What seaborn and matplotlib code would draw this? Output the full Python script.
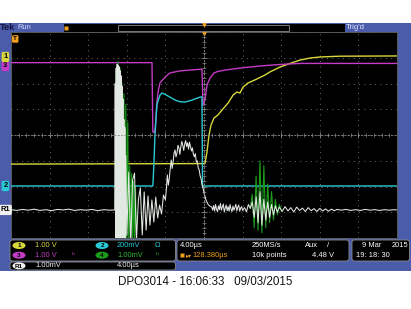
import numpy as np
import pandas as pd
import matplotlib
matplotlib.use("Agg")
import matplotlib.pyplot as plt
import seaborn as sns
from matplotlib.patches import Rectangle, FancyBboxPatch, Ellipse
from matplotlib.transforms import blended_transform_factory

plt.rcParams['font.family'] = ['Liberation Sans', 'DejaVu Sans']

# ---------------- data: time in µs, amplitude in screen divisions ----------------
ch1_t = [-20, 0.10, 0.31, 0.52, 0.73, 1.04, 1.45, 1.87, 2.49, 3.01, 3.42, 3.73, 4.04,
         4.56, 5.28, 6.32, 6.84, 7.88, 8.91, 9.95, 11.0, 12.02, 14.09, 20]
ch1_v = [-1.13, -1.11, -0.66, 0.0, 0.39, 0.66, 0.78, 0.97, 1.24, 1.55, 1.67, 1.63, 1.86,
         2.02, 2.14, 2.33, 2.45, 2.64, 2.78, 2.91, 2.99, 3.03, 3.06, 3.07]

ch2_t = [-20, -5.30, -5.20, -5.08, -4.97, -4.87, -4.56, -4.35, -4.04, -3.52, -3.01, -2.49,
         -1.97, -1.45, -0.93, -0.41, -0.21, -0.15, 20]
ch2_v = [-1.98, -1.98, -1.2, 0.0, 0.70, 1.20, 1.55, 1.63, 1.58, 1.47, 1.36, 1.29,
         1.28, 1.33, 1.40, 1.47, 1.48, -1.98, -1.98]

ch3_t = [-20, -5.39, -5.30, -5.15, -5.05, -4.95, -4.85, -4.70, -4.56, -4.04, -3.52, -2.49,
         -1.45, -0.21, -0.10, 0.10, 0.31, 0.62, 1.04, 1.45, 2.18, 3.73, 5.80, 7.88, 10.0, 20.0]
ch3_v = [2.81, 2.81, 0.12, 0.10, 0.25, 0.80, 1.40, 1.80, 2.02, 2.25, 2.41, 2.49,
         2.52, 2.56, 1.15, 1.36, 1.94, 2.21, 2.41, 2.47, 2.52, 2.60, 2.68, 2.74, 2.78, 2.78]

# reference R1 (noisy current-like trace)
r1_t = [-20.0, -19.4, -18.8, -18.2, -17.6, -17.0, -16.4, -15.8, -15.2, -14.6, -14.0, -13.4,
        -12.8, -12.2, -11.6, -11.0, -10.4, -9.8, -9.3,
        -9.25, -9.2, -9.15, -9.1, -9.05, -9.0, -8.95, -8.9, -8.85, -8.8, -8.75, -8.7, -8.65,
        -8.6, -8.55, -8.5, -8.45, -8.4, -8.35, -8.3, -8.25, -8.2, -8.15, -8.1,
        -8.0, -7.8, -7.6, -7.4, -7.2, -7.0, -6.8, -6.6, -6.4, -6.2, -6.0, -5.8, -5.6, -5.4,
        -5.2, -5.0, -4.8, -4.6, -4.4, -4.2,
        -4.0, -3.9, -3.8, -3.7, -3.6, -3.5, -3.4, -3.3, -3.2, -3.1, -3.0, -2.9, -2.8, -2.7,
        -2.6, -2.5, -2.4, -2.3, -2.2, -2.1, -2.0, -1.9, -1.8, -1.7, -1.6, -1.5, -1.4, -1.3,
        -1.2, -1.1, -1.0, -0.9, -0.8, -0.7, -0.6, -0.5, -0.4, -0.3, -0.2, -0.1, 0.0, 0.2,
        0.4, 0.6,
        0.8, 0.9, 1.0, 1.1, 1.2, 1.3, 1.4, 1.5, 1.6, 1.7, 1.8, 1.9, 2.0, 2.1, 2.2, 2.3, 2.4,
        2.5, 2.6, 2.7, 2.8, 2.9, 3.0, 3.1, 3.2, 3.3, 3.4, 3.5, 3.6, 3.7, 3.8, 3.9, 4.0,
        4.2, 4.4, 4.6, 4.8,
        5.0, 5.2, 5.4, 5.6, 5.8, 6.0, 6.2, 6.4, 6.6, 6.8, 7.0, 7.2, 7.4, 7.6,
        7.8, 8.1, 8.4, 8.7, 9.0, 9.3, 9.6, 9.9, 10.2, 10.5, 10.8, 11.1, 11.4, 11.7, 12.0,
        12.3, 12.6, 12.9, 13.2, 13.5, 13.8,
        14.2, 14.7, 15.2, 15.7, 16.2, 16.7, 17.2, 17.7, 18.2, 18.7, 19.2, 19.7, 20.0]
r1_v = [-2.90, -2.93, -2.89, -2.92, -2.88, -2.93, -2.90, -2.94, -2.89, -2.91, -2.88, -2.93,
        -2.90, -2.92, -2.89, -2.94, -2.90, -2.92, -2.91,
        -2.91, 2.0, -4.3, 2.6, -4.3, 2.75, -4.3, 2.7, -4.3, 2.65, -4.3, 2.5, -4.3,
        2.3, -4.3, 1.9, -4.3, 1.4, -4.3, 0.6, -4.3, 0.3, -4.3, -0.8,
        -3.9, -1.44, -4.3, -1.75, -1.48, -4.1, -2.52, -2.06, -3.88, -2.21, -3.69, -2.37, -3.50, -2.52,
        -3.38, -2.41, -3.22, -2.72, -3.07, -2.33,
        -2.52, -2.10, -1.55, -1.95, -1.70, -1.30, -0.97, -1.30, -1.05, -0.70, -0.58, -0.85, -0.70, -0.40,
        -0.50, -0.75, -0.45, -0.25, -0.40, -0.60, -0.35, -0.22, -0.45, -0.30, -0.55, -0.28, -0.45, -0.62,
        -0.50, -0.75, -0.85, -0.72, -1.05, -1.00, -1.28, -1.35, -1.59, -1.70, -1.94, -2.05, -2.25, -2.52,
        -2.68, -2.76,
        -2.80, -2.92, -2.74, -2.95, -2.70, -2.88, -2.98, -2.75, -2.90, -2.66, -2.92, -2.80, -2.68, -2.99,
        -2.84, -2.72, -2.94, -2.78, -2.96, -2.70, -2.88, -2.97, -2.76, -2.92, -2.82, -2.69, -2.95, -2.80,
        -2.72, -2.96, -2.84, -2.78, -2.93,
        -2.82, -2.98, -2.70, -2.85,
        -2.6, -3.2, -2.4, -3.4, -2.2, -3.5, -2.5, -3.3, -2.6, -3.2, -2.7, -3.1, -2.75, -3.0,
        -2.80, -2.97, -2.78, -2.95, -2.82, -2.99, -2.80, -2.93, -2.84, -2.97, -2.82, -2.94, -2.86,
        -2.97, -2.85, -2.95, -2.87, -2.96, -2.88, -2.94, -2.89,
        -2.92, -2.89, -2.93, -2.90, -2.93, -2.89, -2.92, -2.90, -2.93, -2.90, -2.92, -2.90, -2.91]

# channel 4 (green) where it shows from under R1
ch4a_t = [-9.2, -9.1, -9.0, -8.9, -8.8, -8.7, -8.6, -8.5, -8.4, -8.3, -8.2, -8.1, -8.0, -7.9,
          -7.8, -7.7, -7.6, -7.5, -7.4, -7.3, -7.2, -7.1, -7.0]
ch4a_v = [-2.9, 2.5, -4.3, 2.85, -4.3, 2.6, -4.3, 2.0, -4.3, 1.6, -4.3, 1.2, -4.3, 0.5,
          -4.3, -1.2, -4.3, -1.5, -4.3, -1.8, -4.1, -2.0, -3.9]
ch4b_t = [4.8, 5.0, 5.2, 5.4, 5.6, 5.8, 6.0, 6.2, 6.4, 6.6, 6.8, 7.0, 7.2, 7.4, 7.6, 7.8, 8.0]
ch4b_v = [-2.85, -2.3, -3.6, -1.6, -3.7, -1.0, -3.8, -1.2, -3.6, -1.9, -3.4, -2.2, -3.3, -2.5,
          -3.1, -2.7, -2.9]

# marker levels (divisions)
ch_marker_levels = {'1': 3.03, '3': 2.68, '2': -1.98, 'R1': -2.91}
trig_level = 3.73

readout_row1 = ["1.00 V", "200mV", "Ω"]
readout_row2 = ["1.00 V", "ʰ", "1.00mV", "ʰ"]
ref_row = ["1.00mV", "4.00µs"]
timebase = ["4.00µs", "250MS/s", "Aux", "/", "128.380µs", "10k points", "4.48 V"]
date_txt = ["9 Mar", "2015", "19: 18: 30"]
caption = "DPO3014 - 16:06:33   09/03/2015"

YEL = '#d8d83c'
MAG = '#c43cc8'
CYA = '#2ccad6'
GRN = '#1a9c1a'
REF = '#e2e8e2'
ORG = '#f0a020'
BLUE = '#4a5caa'

# ---------------- figure ----------------
W, H = 411, 309
fig = plt.figure(figsize=(W / 100, H / 100), dpi=100)
fig.patch.set_facecolor('white')

bg = fig.add_axes([0, 0, 1, 1], zorder=-1)
bg.set_xlim(0, W)
bg.set_ylim(H, 0)
bg.axis('off')


def box(x0, y0, x1, y1, fc, ec='none', lw=0.0, rounded=False):
    if rounded:
        p = FancyBboxPatch((x0, y0), x1 - x0, y1 - y0,
                           boxstyle='round,pad=0,rounding_size=2.5', fc=fc, ec=ec, lw=lw)
    else:
        p = Rectangle((x0, y0), x1 - x0, y1 - y0, fc=fc, ec=ec, lw=lw)
    bg.add_patch(p)


# blue frame
box(0, 23, W, 271, BLUE)
# top status bar
box(64, 23.8, 345, 31.6, 'black')
box(118, 24.6, 289, 30.6, 'black', ec='#8a8a8a', lw=0.6)
bg.plot([204], [25], marker='v', color=ORG, ms=3.5, mec='none')
bg.plot([66], [27.5], marker='s', color=ORG, ms=3.5, mec='none')
bg.text(0.3, 27.6, 'Tek', color='#141440', fontsize=6.6, fontweight='bold', va='center')
bg.text(17.5, 27.6, 'Run', color='#d0d8ff', fontsize=5.4, va='center')
bg.text(346, 27.6, "Trig'd", color='#e0e4ff', fontsize=5.6, va='center')

# bottom readout boxes
box(10, 240, 175.5, 261, 'black', ec='#8c8c8c', lw=0.6, rounded=True)
box(10, 262, 175.5, 270, 'black', ec='#8c8c8c', lw=0.6, rounded=True)
box(177, 240, 349, 261, 'black', ec='#8c8c8c', lw=0.6, rounded=True)
box(352, 240, 409.5, 261, 'black', ec='#8c8c8c', lw=0.6, rounded=True)

fs = 5.4
r1y, r2y, r3y = 245.5, 255.2, 265.8
for (cx, cy, col, lab) in [(19, r1y, YEL, '1'), (102, r1y, CYA, '2'),
                           (19, r2y, MAG, '3'), (102, r2y, GRN, '4'),
                           (19, r3y, '#f0f0f0', 'R1')]:
    bg.add_patch(Ellipse((cx, cy), 13, 7, fc=col, ec='none'))
    bg.text(cx, cy + 0.3, lab, color='black', fontsize=4.6, ha='center', va='center',
            fontweight='bold')
bg.text(35, r1y, readout_row1[0], color=YEL, fontsize=fs, va='center')
bg.text(117, r1y, readout_row1[1], color=CYA, fontsize=fs, va='center')
bg.text(155, r1y, readout_row1[2], color=CYA, fontsize=fs, va='center')
bg.text(35, r2y, readout_row2[0], color=MAG, fontsize=fs, va='center')
bg.text(72, r2y, readout_row2[1], color=MAG, fontsize=fs, va='center')
bg.text(117, r2y, readout_row2[2], color='#30b830', fontsize=fs, va='center')
bg.text(156, r2y, readout_row2[3], color='#30b830', fontsize=fs, va='center')
bg.text(35, r3y, ref_row[0], color='#f0f0f0', fontsize=fs, va='center')
bg.text(117, r3y, ref_row[1], color='#f0f0f0', fontsize=fs, va='center')

bg.text(180, r1y, timebase[0], color='white', fontsize=fs, va='center')
bg.text(252, r1y, timebase[1], color='white', fontsize=fs, va='center')
bg.text(305, r1y, timebase[2], color='white', fontsize=fs, va='center')
bg.text(327, r1y, timebase[3], color='white', fontsize=fs, va='center')
bg.plot([182], [r2y], marker='s', color=ORG, ms=3.2, mec='none')
bg.text(185.5, r2y, '▸▾', color=ORG, fontsize=4.2, va='center', family='DejaVu Sans')
bg.text(192.5, r2y, timebase[4], color=ORG, fontsize=fs, va='center')
bg.text(252, r2y, timebase[5], color='white', fontsize=fs, va='center')
bg.text(312, r2y, timebase[6], color='white', fontsize=fs, va='center')
bg.text(362, r1y, date_txt[0], color='white', fontsize=fs, va='center')
bg.text(392, r1y, date_txt[1], color='white', fontsize=fs, va='center')
bg.text(356, r2y, date_txt[2], color='white', fontsize=fs, va='center')

fig.text(205 / W, 1 - 282 / H, caption, ha='center', va='center', fontsize=8.4,
         family='Liberation Sans', color='#151515')

# ---------------- graticule axes ----------------
ax = fig.add_axes([11 / W, 1 - 238 / H, 386 / W, 206 / H])
ax.set_facecolor('black')

frames = [
    pd.DataFrame({'t': ch1_t, 'v': ch1_v, 'trace': 'ch1', 'seg': 0}),
    pd.DataFrame({'t': ch3_t, 'v': ch3_v, 'trace': 'ch3', 'seg': 0}),
    pd.DataFrame({'t': ch2_t, 'v': ch2_v, 'trace': 'ch2', 'seg': 0}),
    pd.DataFrame({'t': ch4a_t, 'v': ch4a_v, 'trace': 'ch4', 'seg': 0}),
    pd.DataFrame({'t': ch4b_t, 'v': ch4b_v, 'trace': 'ch4', 'seg': 1}),
    pd.DataFrame({'t': r1_t, 'v': r1_v, 'trace': 'R1', 'seg': 0}),
]
df = pd.concat(frames, ignore_index=True)

styles = [('ch1', YEL, 1.0), ('ch3', MAG, 1.0), ('ch2', CYA, 1.0),
          ('ch4', GRN, 0.8), ('R1', REF, 0.75)]
for name, col, lw in styles:
    sns.lineplot(data=df[df['trace'] == name], x='t', y='v', units='seg', estimator=None,
                 sort=False, color=col, linewidth=lw, ax=ax, legend=False)

ax.set_xlim(-20, 20)
ax.set_ylim(-4, 4)
ax.set_xlabel('')
ax.set_ylabel('')
ax.set_xticks(np.arange(-20, 21, 4))
ax.set_yticks(np.arange(-4, 5, 1))
ax.set_xticks(np.arange(-20, 20.01, 0.8), minor=True)
ax.set_yticks(np.arange(-4, 4.01, 0.2), minor=True)
ax.grid(True, which='major', color='#6c6c6c', lw=0.7, ls=(0, (1, 4.5)))
ax.set_axisbelow(True)
for s in ['top', 'right']:
    ax.spines[s].set_visible(False)
for s in ['left', 'bottom']:
    ax.spines[s].set_position(('data', 0))
    ax.spines[s].set_color('#8a8a8a')
    ax.spines[s].set_linewidth(0.6)
    ax.spines[s].set_linestyle((0, (1.5, 2.5)))
ax.tick_params(which='major', direction='inout', length=4, width=0.6, color='#8a8a8a',
               labelbottom=False, labelleft=False)
ax.tick_params(which='minor', direction='inout', length=2.4, width=0.5, color='#8a8a8a')
ax.add_patch(Rectangle((0, 0), 1, 1, transform=ax.transAxes, fill=False,
                       ec='#5a5a5a', lw=0.7, clip_on=False))

# channel level markers at the left edge
trans = blended_transform_factory(ax.transAxes, ax.transData)
for lab, col in [('3', MAG), ('1', YEL), ('2', CYA), ('R1', '#f0f0f0')]:
    ax.text(-0.0145, ch_marker_levels[lab], lab, transform=trans, clip_on=False,
            ha='center', va='center', fontsize=5.4, color='black', fontweight='bold',
            bbox=dict(boxstyle='round,pad=0.22', fc=col, ec='none'))
ax.text(0.011, trig_level, 'T', transform=trans, ha='center', va='center', fontsize=4.6,
        color='black', fontweight='bold',
        bbox=dict(boxstyle='round,pad=0.2', fc=ORG, ec='none'))
ax.plot([0], [3.93], marker='v', color=ORG, ms=3.5, mec='none', clip_on=False)

fig.savefig('out.png', dpi=100, facecolor='white')
